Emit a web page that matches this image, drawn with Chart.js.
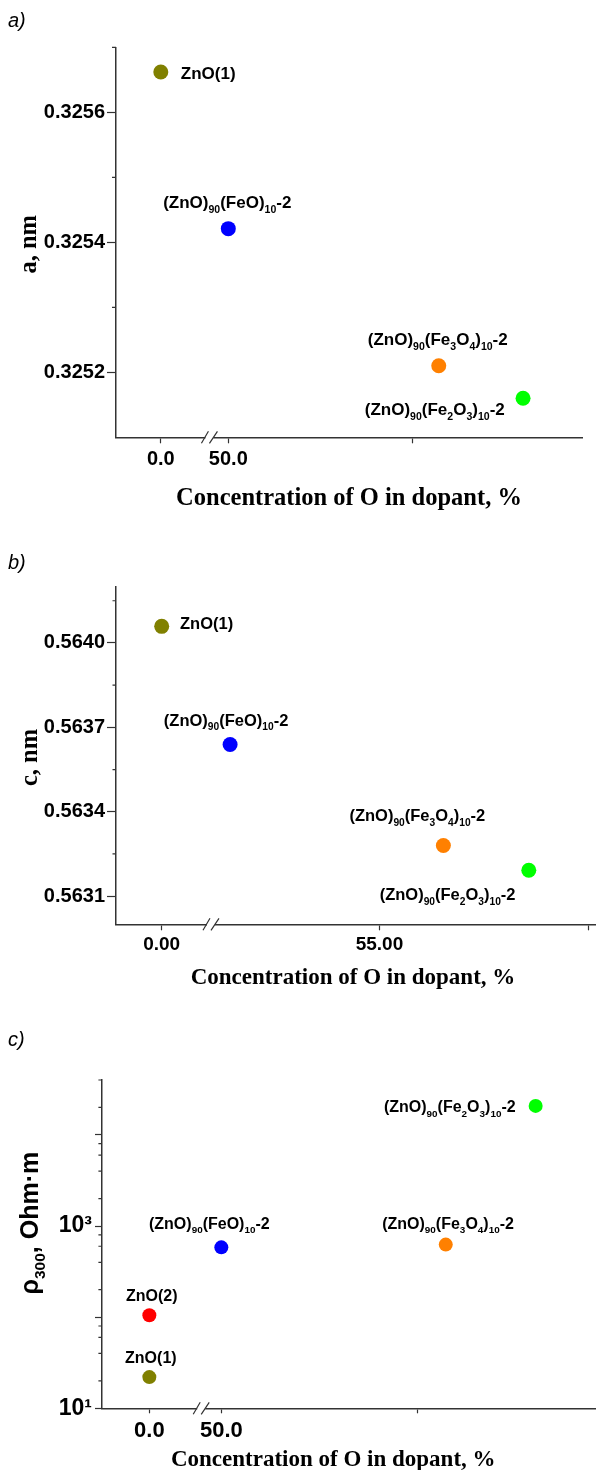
<!DOCTYPE html>
<html>
<head>
<meta charset="utf-8">
<script src="https://cdn.jsdelivr.net/npm/chart.js@4/dist/chart.umd.min.js"></script>
<style>
  body { margin: 0; background: #fff; width: 596px; height: 1470px; position: relative; overflow: hidden; }
  canvas { position: absolute; left: 0; }
</style>
</head>
<body>
<canvas id="chartA" width="596" height="530" style="top:0px"></canvas>
<canvas id="chartB" width="596" height="480" style="top:530px"></canvas>
<canvas id="chartC" width="596" height="460" style="top:1010px"></canvas>
<script>
// ---- data ----
// a) lattice parameter a
const namesA = ['ZnO(1)', '(ZnO)_{90}(FeO)_{10}-2', '(ZnO)_{90}(Fe_{3}O_{4})_{10}-2', '(ZnO)_{90}(Fe_{2}O_{3})_{10}-2'];
const colorsA = ['#808000', '#0000ff', '#ff8000', '#00ff00'];
const concA = [0, 50, 57.14, 60];                       // O in dopant, %
const latA = [0.325662, 0.325421, 0.325210, 0.325160];  // a, nm
const yMajorA = [0.3252, 0.3254, 0.3256];
const yMinorA = [0.3253, 0.3255, 0.3257];
const xTicksA = [0, 50, 56.25];
const xLabelsA = ['0.0', '50.0', ''];

// b) lattice parameter c
const namesB = ['ZnO(1)', '(ZnO)_{90}(FeO)_{10}-2', '(ZnO)_{90}(Fe_{3}O_{4})_{10}-2', '(ZnO)_{90}(Fe_{2}O_{3})_{10}-2'];
const colorsB = ['#808000', '#0000ff', '#ff8000', '#00ff00'];
const concB = [0, 50, 57.14, 60];
const latC = [0.564059, 0.563639, 0.563280, 0.563192];  // c, nm
const yMajorB = [0.5631, 0.5634, 0.5637, 0.5640];
const yMinorB = [0.56325, 0.56355, 0.56385, 0.56415];
const xTicksB = [0, 55, 62];
const xLabelsB = ['0.00', '55.00', ''];

// c) resistivity at 300 K
const namesC = ['ZnO(1)', 'ZnO(2)', '(ZnO)_{90}(FeO)_{10}-2', '(ZnO)_{90}(Fe_{3}O_{4})_{10}-2', '(ZnO)_{90}(Fe_{2}O_{3})_{10}-2'];
const colorsC = ['#808000', '#ff0000', '#0000ff', '#ff8000', '#00ff00'];
const concC = [0, 0, 50, 57.14, 60];
const rho = [22, 105, 583, 625, 20800];                 // Ohm*m
const yMajorC = [10, 100, 1000, 10000];
const yLabelsC = ['10\u00b9', '', '10\u00b3', ''];
const yMinorC = [20, 40, 60, 80, 200, 400, 600, 800, 2000, 4000, 6000, 8000, 20000, 40000];
const xTicksC = [0, 50, 56.25];
const xLabelsC = ['0.0', '50.0', ''];

// label offsets from the point: dx, dy (baseline), align
const placeA = [[20, 7.3, 'left'], [-1, -20.7, 'center'], [-1, -20.7, 'center'], [-18.3, 16.7, 'right']];
const placeB = [[18.3, 2.3, 'left'], [-4, -19, 'center'], [-26, -24.6, 'center'], [-13.3, 29.7, 'right']];
const placeC = [[1.5, -13.7, 'center'], [2.4, -14.7, 'center'], [-12, -18.7, 'center'], [2.3, -16, 'center'], [-20, 6.6, 'right']];

// broken x axis: the stretch between 1.65 and 49.36 is cut out
const X_GAP_FROM = 1.65, X_GAP_TO = 49.36;
function brk(v) { return v <= X_GAP_FROM ? v : X_GAP_FROM + (v - X_GAP_TO); }

const SANS = '"Liberation Sans", Arial, sans-serif';
const SERIF = '"Liberation Serif", "Times New Roman", serif';
const AXIS = '#333';

function parseRich(s) {
  const out = [];
  const re = /_\{([^}]*)\}/g;
  let last = 0, m;
  while ((m = re.exec(s))) {
    if (m.index > last) out.push({ t: s.slice(last, m.index), sub: false });
    out.push({ t: m[1], sub: true });
    last = re.lastIndex;
  }
  if (last < s.length) out.push({ t: s.slice(last), sub: false });
  return out;
}

function drawRich(ctx, s, x, y, size, family, align) {
  const parts = parseRich(s);
  const fontOf = p => `bold ${p.sub ? size * 0.62 : size}px ${family}`;
  let w = 0;
  parts.forEach(p => { ctx.font = fontOf(p); p.w = ctx.measureText(p.t).width; w += p.w; });
  let cx = align === 'center' ? x - w / 2 : align === 'right' ? x - w : x;
  ctx.textAlign = 'left';
  ctx.textBaseline = 'alphabetic';
  parts.forEach(p => {
    ctx.font = fontOf(p);
    ctx.fillText(p.t, cx, p.sub ? y + size * 0.28 : y);
    cx += p.w;
  });
}

function makeChart(id, o) {
  const decor = {
    id: 'decor',
    afterDraw(chart) {
      const ctx = chart.ctx, a = chart.chartArea;
      const xs = chart.scales.x, ys = chart.scales.y;
      ctx.save();
      // minor ticks on y
      ctx.strokeStyle = AXIS;
      ctx.lineWidth = 1.2;
      ctx.beginPath();
      o.yMinor.forEach(v => {
        const p = ys.getPixelForValue(v);
        ctx.moveTo(a.left - o.minorLen, p);
        ctx.lineTo(a.left, p);
      });
      ctx.stroke();
      // break marks //
      const bx = xs.getPixelForValue(X_GAP_FROM), by = a.bottom;
      ctx.fillStyle = '#fff';
      ctx.fillRect(bx - 4, by - 2, 8, 4);
      ctx.beginPath();
      ctx.moveTo(bx - 8, by + 6); ctx.lineTo(bx - 1, by - 6);
      ctx.moveTo(bx, by + 6); ctx.lineTo(bx + 8, by - 6);
      ctx.stroke();
      // point labels
      ctx.fillStyle = '#000';
      const pts = chart.getDatasetMeta(0).data;
      o.names.forEach((n, i) => {
        const [dx, dy, al] = o.place[i];
        drawRich(ctx, n, pts[i].x + dx, pts[i].y + dy, o.labelSize, SANS, al);
      });
      // x title
      ctx.font = `bold ${o.xTitleSize}px ${SERIF}`;
      ctx.textAlign = 'center';
      ctx.textBaseline = 'alphabetic';
      ctx.fillText('Concentration of O in dopant, %', (a.left + a.right) / 2 + o.xTitleShift, a.bottom + o.xTitleOff);
      // y title
      ctx.save();
      ctx.translate(o.yTitleX, (a.top + a.bottom) / 2 + o.yTitleShift);
      ctx.rotate(-Math.PI / 2);
      drawRich(ctx, o.yTitle, 0, 0, o.yTitleSize, o.yTitleFont, 'center');
      ctx.restore();
      // panel letter
      ctx.font = `italic 20px ${SANS}`;
      ctx.textAlign = 'left';
      ctx.fillText(o.panel, 8, o.panelY);
      ctx.restore();
    }
  };

  return new Chart(document.getElementById(id), {
    type: 'scatter',
    data: {
      datasets: [{
        data: o.x.map((v, i) => ({ x: brk(v), y: o.y[i] })),
        pointBackgroundColor: o.colors,
        pointBorderColor: o.colors,
        pointRadius: o.radius,
        pointBorderWidth: 0
      }]
    },
    options: {
      responsive: false,
      animation: false,
      devicePixelRatio: 1,
      layout: { autoPadding: false, padding: { top: o.padTop, right: o.padRight, left: 0, bottom: 0 } },
      plugins: { legend: { display: false }, tooltip: { enabled: false } },
      scales: {
        x: {
          type: 'linear',
          min: brk(o.xMin),
          max: brk(o.xMax),
          afterBuildTicks: s => { s.ticks = o.xTicks.map(v => ({ value: brk(v) })); },
          afterFit: s => { s.height = o.xHeight; s.paddingLeft = 0; s.paddingRight = 0; },
          grid: { drawOnChartArea: false, tickLength: o.xTickLen, tickColor: AXIS, tickWidth: 1.2 },
          border: { color: AXIS, width: 1.5 },
          ticks: {
            autoSkip: false, maxRotation: 0, padding: o.xTickPad, color: '#000',
            font: { family: SANS, size: o.tickSize, weight: 'bold' },
            callback: (v, i) => o.xLabels[i]
          }
        },
        y: {
          type: o.yType,
          min: o.yMin,
          max: o.yMax,
          afterBuildTicks: s => { s.ticks = o.yMajor.map(v => ({ value: v })); },
          afterFit: s => { s.width = o.yWidth; s.paddingTop = 0; s.paddingBottom = 0; },
          grid: { drawOnChartArea: false, tickLength: o.yTickLen, tickColor: AXIS, tickWidth: 1.2 },
          border: { color: AXIS, width: 1.5 },
          ticks: {
            autoSkip: false, padding: o.yTickPad, color: '#000',
            font: { family: SANS, size: o.yTickSize, weight: 'bold' },
            callback: (v, i) => o.yLabels[i]
          }
        }
      }
    },
    plugins: [decor]
  });
}

makeChart('chartA', {
  names: namesA, colors: colorsA, x: concA, y: latA, place: placeA,
  yType: 'linear', yMin: 0.3251, yMax: 0.3257, yMajor: yMajorA, yMinor: yMinorA,
  yLabels: yMajorA.map(v => v.toFixed(4)),
  xTicks: xTicksA, xLabels: xLabelsA, xMin: -1.52, xMax: 62.0,
  padTop: 47.3, padRight: 14, yWidth: 116, xHeight: 92.7,
  radius: 7.5, labelSize: 17, tickSize: 20, yTickSize: 20,
  xTickLen: 6, yTickLen: 9, minorLen: 4, xTickPad: 4, yTickPad: 2,
  xTitleSize: 24.5, xTitleOff: 67.7, xTitleShift: 0,
  yTitle: 'a, nm', yTitleFont: SERIF, yTitleSize: 24.5, yTitleX: 36, yTitleShift: 2,
  panel: 'a)', panelY: 27
});

makeChart('chartB', {
  names: namesB, colors: colorsB, x: concB, y: latC, place: placeB,
  yType: 'linear', yMin: 0.5630, yMax: 0.5642, yMajor: yMajorB, yMinor: yMinorB,
  yLabels: yMajorB.map(v => v.toFixed(4)),
  xTicks: xTicksB, xLabels: xLabelsB, xMin: -1.53, xMax: 62.25,
  padTop: 56.7, padRight: 0, yWidth: 116, xHeight: 85.7,
  radius: 7.5, labelSize: 16.5, tickSize: 19, yTickSize: 20,
  xTickLen: 6, yTickLen: 9, minorLen: 3.5, xTickPad: 3, yTickPad: 2,
  xTitleSize: 23, xTitleOff: 59.7, xTitleShift: -3,
  yTitle: 'c, nm', yTitleFont: SERIF, yTitleSize: 24.5, yTitleX: 36.7, yTitleShift: 2,
  panel: 'b)', panelY: 39
});

makeChart('chartC', {
  names: namesC, colors: colorsC, x: concC, y: rho, place: placeC,
  yType: 'logarithmic', yMin: 10, yMax: 40000, yMajor: yMajorC, yMinor: yMinorC,
  yLabels: yLabelsC,
  xTicks: xTicksC, xLabels: xLabelsC, xMin: -1.516, xMax: 61.92,
  padTop: 70, padRight: 0, yWidth: 101.7, xHeight: 61.7,
  radius: 7, labelSize: 16, tickSize: 22, yTickSize: 23,
  xTickLen: 5, yTickLen: 6.7, minorLen: 3.3, xTickPad: 4, yTickPad: 3,
  xTitleSize: 23, xTitleOff: 57.7, xTitleShift: -15.6,
  yTitle: '\u03c1_{300}, Ohm\u00b7m', yTitleFont: SANS, yTitleSize: 25, yTitleX: 38.3, yTitleShift: -21,
  panel: 'c)', panelY: 36
});
</script>
</body>
</html>
